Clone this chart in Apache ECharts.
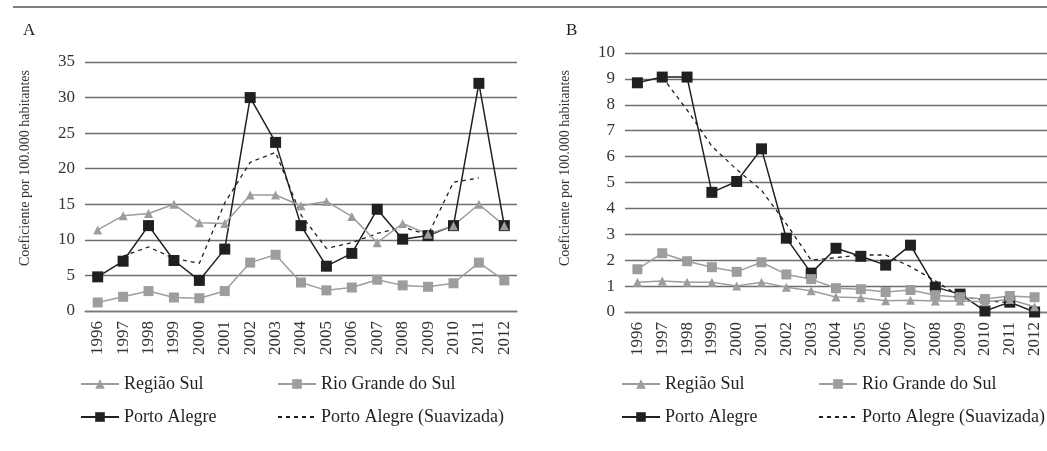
<!DOCTYPE html>
<html>
<head>
<meta charset="utf-8">
<script src="https://cdn.jsdelivr.net/npm/echarts@6/dist/echarts.min.js"></script>
<style>html,body{margin:0;padding:0;background:#fff}#c{width:1047px;height:451px}</style>
</head>
<body>
<div id="c"></div>
<script>
const years = ['1996','1997','1998','1999','2000','2001','2002','2003','2004','2005','2006','2007','2008','2009','2010','2011','2012'];

// Panel A
const regiaoSulA = [11.4,13.4,13.7,15.0,12.4,12.3,16.3,16.3,14.8,15.4,13.3,9.6,12.3,10.8,12.0,15.0,12.0];
const rioGrandeA = [1.2,2.0,2.8,1.9,1.8,2.8,6.8,7.9,4.0,2.9,3.3,4.4,3.6,3.4,3.9,6.8,4.3];
const portoAlegreA = [4.8,7.0,12.0,7.1,4.3,8.7,30.0,23.7,12.0,6.3,8.1,14.3,10.1,10.6,12.0,32.0,12.0];
const suavizadaA = [null,7.7,9.0,7.4,6.7,15.2,20.9,22.3,13.5,8.8,9.6,10.9,11.8,10.7,18.1,18.7,null];

// Panel B
const regiaoSulB = [1.15,1.2,1.15,1.15,1.0,1.15,0.96,0.82,0.58,0.55,0.43,0.45,0.42,0.42,0.4,0.48,0.2];
const rioGrandeB = [1.65,2.27,1.96,1.73,1.55,1.92,1.45,1.27,0.92,0.88,0.77,0.85,0.65,0.57,0.5,0.62,0.57];
const portoAlegreB = [8.85,9.07,9.07,4.62,5.04,6.3,2.85,1.5,2.46,2.15,1.81,2.58,0.96,0.69,0.04,0.38,0.0];
const suavizadaB = [null,9.07,7.8,6.4,5.5,4.7,3.4,2.0,2.1,2.2,2.2,1.75,1.2,0.6,0.45,0.35,null];

const names = ['Região Sul','Rio Grande do Sul','Porto Alegre','Porto Alegre (Suavizada)'];
const panelLabels = ['A','B'];
const yTitle = 'Coeficiente por 100.000 habitantes';

const FONT = 'Liberation Serif';
const GRAY = '#9d9d9d';
const BLACK = '#231f20';

function xAxis(gi){
  return {type:'category', gridIndex:gi, data:years, boundaryGap:true,
    axisLine:{show:true, lineStyle:{color:'#7a7a7a', width:1.3}},
    axisTick:{show:false},
    axisLabel:{rotate:90, interval:0, margin:10, fontFamily:FONT, fontSize:17, color:'#333'}};
}
function yAxis(gi,max,interval){
  return {type:'value', gridIndex:gi, min:0, max:max, interval:interval,
    axisLine:{show:false}, axisTick:{show:false},
    splitLine:{lineStyle:{color:'#6f6f6f', width:1.3}},
    axisLabel:{margin:10, fontFamily:FONT, fontSize:17, color:'#333'}};
}
function series(gi, pa, suav, rio, reg){
  return [
    {name:names[2], type:'line', xAxisIndex:gi, yAxisIndex:gi, data:pa, symbol:'rect', symbolSize:11,
      itemStyle:{color:BLACK}, lineStyle:{color:BLACK, width:1.5}, animation:false},
    {name:names[3], type:'line', xAxisIndex:gi, yAxisIndex:gi, data:suav, symbol:'none', connectNulls:false,
      itemStyle:{color:BLACK}, lineStyle:{color:BLACK, width:1.3, type:[4,4]}, animation:false},
    {name:names[1], type:'line', xAxisIndex:gi, yAxisIndex:gi, data:rio, symbol:'rect', symbolSize:10,
      itemStyle:{color:GRAY}, lineStyle:{color:GRAY, width:1.5}, animation:false},
    {name:names[0], type:'line', xAxisIndex:gi, yAxisIndex:gi, data:reg, symbol:'triangle', symbolSize:9,
      itemStyle:{color:GRAY}, lineStyle:{color:GRAY, width:1.5}, animation:false}
  ];
}
function legend(left, data){
  return {orient:'vertical', left:left, top:369, itemWidth:38, itemHeight:12, itemGap:13,
    textStyle:{fontFamily:FONT, fontSize:18, color:'#231f20', lineHeight:20},
    data:data, selectedMode:false};
}
const legendCol2 = [names[1], {name:names[3], itemStyle:{opacity:0}}];

function yTitleText(x){
  return {type:'text', x:x, y:168, rotation:Math.PI/2,
    style:{text:yTitle, font:'14px "Liberation Serif"', fill:'#333', align:'center', verticalAlign:'middle'}};
}

const chart = echarts.init(document.getElementById('c'), null, {renderer:'canvas'});
chart.setOption({
  backgroundColor:'#fff',
  animation:false,
  grid:[
    {left:85, right:530, top:62, bottom:140},
    {left:625, right:-6, top:53, bottom:139}
  ],
  xAxis:[xAxis(0), xAxis(1)],
  yAxis:[yAxis(0,35,5), yAxis(1,10,1)],
  legend:[
    legend(75,[names[0],names[2]]),
    legend(272,legendCol2),
    legend(616,[names[0],names[2]]),
    legend(813,legendCol2)
  ],
  graphic:[
    {type:'line', shape:{x1:13,y1:7,x2:1047,y2:7}, style:{stroke:'#555', lineWidth:1.5}},
    {type:'text', left:23, top:22, style:{text:panelLabels[0], font:'17px "Liberation Serif"', fill:'#231f20'}},
    {type:'text', left:566, top:22, style:{text:panelLabels[1], font:'17px "Liberation Serif"', fill:'#231f20'}},
    yTitleText(25),
    yTitleText(565)
  ],
  series:[].concat(
    series(0, portoAlegreA, suavizadaA, rioGrandeA, regiaoSulA),
    series(1, portoAlegreB, suavizadaB, rioGrandeB, regiaoSulB)
  )
});
</script>
</body>
</html>
